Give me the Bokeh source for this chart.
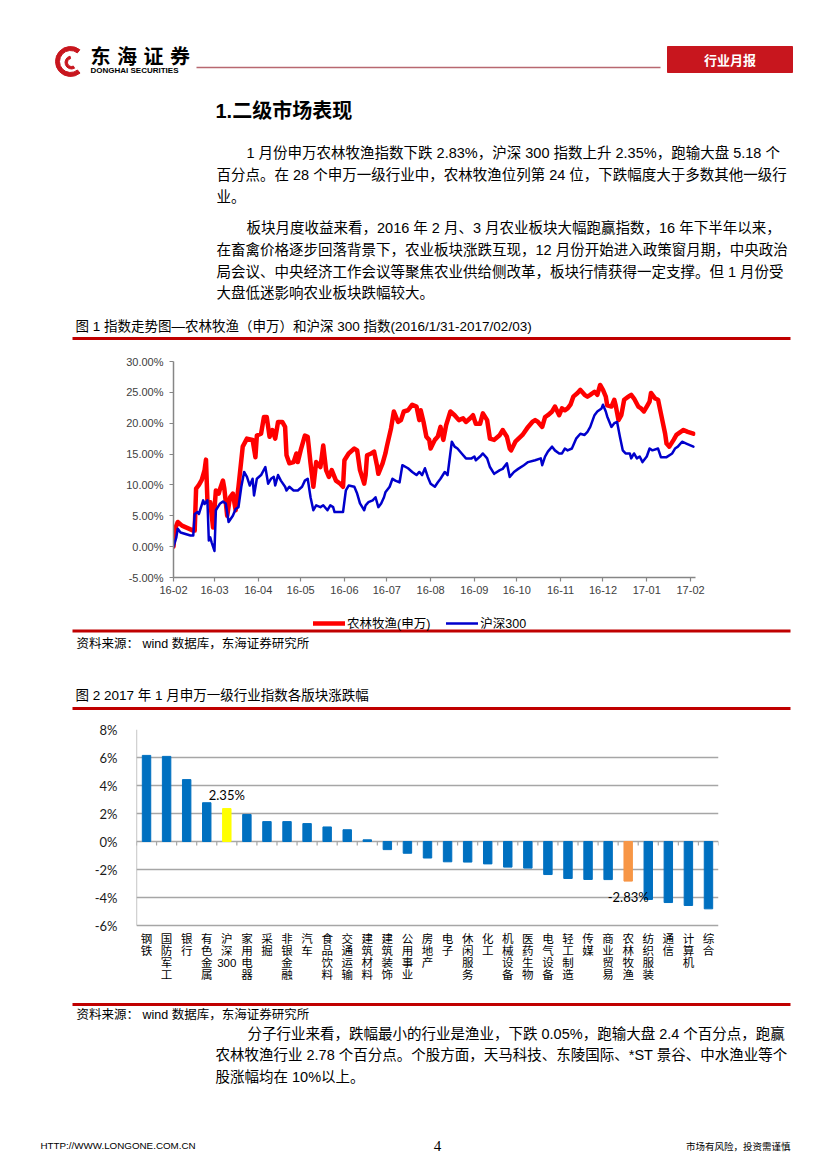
import re
from datetime import datetime, timedelta
from bokeh.plotting import figure
from bokeh.models import (Range1d, Legend, LegendItem, FixedTicker, PrintfTickFormatter,
                          DatetimeTickFormatter, MonthsTicker, ColumnDataSource)
from bokeh.core.properties import value
from bokeh.embed import file_html
from bokeh.resources import INLINE

# ---------------- data: figure 1 (cumulative return, %) ----------------
START = datetime(2016, 2, 1)
agri_day_offsets = [0, 1, 3, 6, 10, 14, 15, 16, 18, 20, 22, 23, 24, 26, 28, 30, 32, 33, 35, 36, 38, 40, 42, 44, 46,
                    49, 52, 56, 58, 59, 62, 64, 66, 68, 70, 72, 74, 77, 79, 80, 82, 85, 87, 88, 90, 93, 95, 97, 99,
                    101, 104, 106, 108, 110, 112, 115, 118, 120, 121, 124, 128, 130, 132, 135, 136, 137, 140, 142,
                    144, 145, 148, 150, 151, 154, 156, 159, 161, 163, 166, 169, 172, 174, 175, 177, 179, 181, 182,
                    185, 187, 189, 191, 193, 196, 199, 202, 205, 207, 210, 212, 214, 217, 219, 222, 224, 227, 231,
                    233, 236, 238, 239, 242, 247, 251, 254, 256, 258, 261, 263, 265, 268, 270, 273, 275, 277, 279,
                    281, 283, 286, 288, 291, 293, 295, 298, 300, 302, 304, 306, 307, 310, 312, 313, 315, 317, 319,
                    322, 324, 326, 329, 331, 333, 335, 337, 338, 341, 343, 345, 348, 349, 351, 354, 356, 359, 361,
                    364, 368]
agri_return_pct = [0.0, 2.8, 4.0, 3.4, 3.0, 2.6, 2.6, 9.4, 10.0, 10.8, 12.4, 14.1, 7.5, 7.2, 3.1, 9.1, 8.6, 9.4, 10.7,
                   9.4, 5.0, 8.0, 8.6, 5.9, 9.7, 16.2, 17.5, 17.3, 14.5, 18.0, 18.3, 21.0, 21.0, 17.8, 18.9, 17.5,
                   20.2, 20.2, 19.4, 14.8, 13.5, 13.7, 15.1, 13.7, 15.6, 18.0, 17.8, 13.5, 9.7, 13.7, 12.9, 16.4,
                   12.4, 11.3, 12.4, 10.7, 10.2, 9.7, 14.0, 15.1, 15.9, 15.6, 12.4, 10.2, 11.6, 14.8, 15.1, 15.4,
                   13.2, 11.8, 13.5, 15.1, 16.2, 19.2, 21.9, 20.2, 20.5, 21.9, 22.1, 23.0, 22.7, 20.5, 22.1, 20.2,
                   17.8, 17.3, 15.9, 17.3, 17.8, 19.4, 17.3, 19.7, 21.9, 21.3, 20.5, 20.8, 20.2, 20.8, 21.3, 19.9,
                   19.9, 21.6, 20.5, 17.5, 17.3, 18.1, 18.9, 17.8, 15.9, 15.6, 17.0, 18.1, 19.4, 20.2, 20.5, 20.2,
                   19.4, 21.0, 21.3, 21.9, 22.7, 21.3, 22.4, 22.1, 22.4, 23.0, 24.3, 24.9, 25.4, 24.6, 24.3, 24.6,
                   25.1, 24.6, 26.2, 25.4, 24.3, 22.9, 22.7, 23.8, 22.9, 20.5, 21.3, 23.8, 24.3, 24.6, 24.0, 22.7,
                   22.4, 21.9, 22.7, 23.5, 24.9, 24.0, 23.8, 21.6, 18.3, 16.7, 16.2, 17.3, 18.1, 18.6, 18.9, 18.6,
                   18.3]
hs300_day_offsets = [0, 2, 3, 5, 12, 14, 15, 17, 18, 21, 22, 24, 25, 26, 27, 29, 30, 33, 35, 37, 39, 42, 44, 46, 48,
                     50, 52, 54, 56, 57, 59, 62, 65, 67, 69, 71, 72, 74, 76, 79, 80, 82, 85, 88, 91, 93, 95, 97, 99,
                     101, 104, 106, 109, 111, 113, 114, 118, 120, 122, 124, 128, 130, 132, 135, 136, 138, 141, 143,
                     145, 147, 149, 150, 153, 155, 157, 160, 162, 166, 169, 172, 174, 176, 178, 180, 182, 185, 187,
                     189, 192, 194, 197, 199, 201, 204, 207, 211, 213, 214, 217, 219, 222, 224, 227, 231, 233, 236,
                     238, 241, 244, 248, 251, 256, 260, 261, 263, 265, 268, 270, 273, 275, 277, 279, 282, 285, 288,
                     291, 293, 295, 298, 300, 303, 304, 306, 307, 310, 312, 314, 316, 318, 320, 323, 324, 326, 328,
                     330, 332, 335, 337, 339, 343, 345, 349, 353, 355, 357, 360, 363, 368]
hs300_return_pct = [0.0, 1.5, 2.9, 2.3, 1.8, 1.8, 5.3, 5.6, 5.3, 7.5, 6.9, 7.5, 1.0, 1.5, 0.7, -0.7, 5.9, 7.0, 7.3,
                    7.0, 4.0, 5.0, 6.1, 6.4, 9.7, 12.1, 11.3, 9.9, 11.0, 8.3, 11.0, 11.6, 12.9, 10.2, 11.0, 11.3,
                    9.9, 11.6, 10.7, 9.7, 9.1, 9.7, 9.1, 9.1, 9.7, 10.7, 11.0, 8.0, 5.9, 6.7, 6.4, 6.7, 5.9, 6.7,
                    6.4, 5.6, 5.6, 5.6, 9.1, 9.9, 9.7, 8.6, 7.0, 5.9, 6.7, 7.2, 7.5, 8.0, 6.4, 7.0, 8.0, 8.8, 9.7,
                    11.0, 10.7, 10.4, 13.2, 12.7, 12.1, 11.6, 12.1, 11.6, 12.7, 11.3, 10.2, 9.7, 10.4, 11.0, 12.1,
                    11.6, 17.0, 16.2, 15.9, 15.1, 14.3, 14.3, 14.6, 14.0, 14.6, 15.1, 14.3, 12.9, 11.8, 12.4, 12.6,
                    13.5, 11.3, 12.1, 12.6, 13.2, 13.7, 14.0, 14.3, 13.2, 14.6, 15.4, 16.2, 15.6, 15.1, 15.1, 15.9,
                    15.6, 15.9, 17.5, 18.3, 18.1, 18.6, 19.4, 21.3, 21.9, 22.4, 23.0, 21.9, 21.1, 19.4, 20.0, 20.2,
                    17.8, 15.6, 15.1, 15.1, 14.3, 15.1, 14.3, 14.6, 13.7, 14.6, 15.9, 15.6, 15.9, 14.5, 14.5, 15.1,
                    15.9, 16.2, 17.0, 16.7, 16.2]
fig1_y_ticks = [-5, 0, 5, 10, 15, 20, 25, 30]
fig1_series_names = ["农林牧渔(申万)", "沪深300"]
fig1_series_colors = ["#FF0000", "#0000CC"]
fig1_series_widths = [4.5, 2.5]

# ---------------- data: figure 2 (Jan 2017 change by industry, %) ----------------
industries = ["钢铁", "国防军工", "银行", "有色金属", "沪深300", "家用电器", "采掘", "非银金融", "汽车", "食品饮料",
              "交通运输", "建筑材料", "建筑装饰", "公用事业", "房地产", "电子", "休闲服务", "化工", "机械设备",
              "医药生物", "电气设备", "轻工制造", "传媒", "商业贸易", "农林牧渔", "纺织服装", "通信", "计算机", "综合"]
industry_change_pct = [6.15, 6.08, 4.42, 2.77, 2.35, 1.93, 1.42, 1.42, 1.28, 1.04, 0.84, 0.12, -0.58, -0.84, -1.18,
                       -1.45, -1.47, -1.60, -1.83, -1.90, -2.36, -2.64, -2.71, -2.72, -2.83, -4.14, -4.36, -4.57,
                       -4.81]
fig2_y_ticks = [-6, -4, -2, 0, 2, 4, 6, 8]
highlight_colors = {"沪深300": "#FFFF00", "农林牧渔": "#F79646"}
labelled = ["沪深300", "农林牧渔"]

# ---------------- styles ----------------
W = 811
MIX = "'Liberation Sans', 'Noto Sans CJK SC'"
SANS = "Liberation Sans"
RED = "#C00000"
BAR_BLUE = "#0070C0"
GRID = "#A6A6A6"


def page(y0, y1):
    p = figure(width=W, height=y1 - y0, x_range=Range1d(0, W), y_range=Range1d(y1, y0),
               x_axis_location=None, y_axis_location=None, toolbar_location=None,
               output_backend="svg", title=None, min_border=0)
    p.grid.visible = False
    p.outline_line_color = None
    return p


def txt(p, x, y, s, size, font=MIX, color="#000000", align="left", style="normal", baseline="middle"):
    p.text(x=[x], y=[y], text=[s], text_font=value(font), text_font_size=value(f"{size}px"),
           text_color=color, text_align=align, text_baseline=baseline, text_font_style=style)


def hline(p, xa, xb, y, color=RED, width=3.0):
    p.segment(x0=[xa], y0=[y], x1=[xb], y1=[y], line_color=color, line_width=width)


# ---------------- top text block ----------------
top = page(0, 345)
top.annular_wedge(x=[70], y=[61], inner_radius=11, outer_radius=15, start_angle=0.9, end_angle=5.4,
                  color="#C8161E")
top.annular_wedge(x=[71], y=[62], inner_radius=4, outer_radius=6.5, start_angle=1.8, end_angle=5.2,
                  color="#C8161E")
for i, ch in enumerate("东海证券"):
    txt(top, 90 + i * 26.5, 55, ch, 20, font="Noto Sans CJK SC", style="bold")
txt(top, 90, 69.5, "DONGHAI SECURITIES", 8, font=SANS, style="bold")
hline(top, 196, 660, 67, color="#B86870", width=1.5)
top.quad(left=[667], right=[792], top=[46], bottom=[72], color="#C8161E")
txt(top, 729.5, 59, "行业月报", 13, font="Noto Sans CJK SC", color="#FFFFFF", align="center", style="bold")

txt(top, 215, 110, "1.二级市场表现", 20, style="bold")
BODY = 14.5
txt(top, 246, 152, "1 月份申万农林牧渔指数下跌 2.83%，沪深 300 指数上升 2.35%，跑输大盘 5.18 个", BODY)
txt(top, 216, 174, "百分点。在 28 个申万一级行业中，农林牧渔位列第 24 位，下跌幅度大于多数其他一级行", BODY)
txt(top, 216, 196, "业。", BODY)
txt(top, 246, 227, "板块月度收益来看，2016 年 2 月、3 月农业板块大幅跑赢指数，16 年下半年以来，", BODY)
txt(top, 216, 249, "在畜禽价格逐步回落背景下，农业板块涨跌互现，12 月份开始进入政策窗月期，中央政治", BODY)
txt(top, 216, 271, "局会议、中央经济工作会议等聚焦农业供给侧改革，板块行情获得一定支撑。但 1 月份受", BODY)
txt(top, 216, 292, "大盘低迷影响农业板块跌幅较大。", BODY)
txt(top, 75, 326, "图 1  指数走势图—农林牧渔（申万）和沪深 300 指数(2016/1/31-2017/02/03)", 13.5)
hline(top, 72, 790, 338)

# ---------------- figure 1 ----------------
p1 = figure(width=W, height=255, x_axis_type="datetime",
            x_range=Range1d(START, START + timedelta(days=369.5)), y_range=Range1d(-5, 30),
            toolbar_location=None, output_backend="svg", title=None,
            min_border_left=173, min_border_right=116, min_border_top=16, min_border_bottom=23)
p1.grid.visible = False
p1.outline_line_color = None
agri_dates = [START + timedelta(days=d) for d in agri_day_offsets]
hs_dates = [START + timedelta(days=d) for d in hs300_day_offsets]
series = [(agri_dates, agri_return_pct), (hs_dates, hs300_return_pct)]
for (xs, ys), col, lw in zip(series, fig1_series_colors, fig1_series_widths):
    p1.line(xs, ys, line_color=col, line_width=lw, line_join="round", line_cap="round")

p1.xaxis.ticker = MonthsTicker(months=list(range(1, 13)))
fmt = DatetimeTickFormatter(months="%y-%m", days="%y-%m", years="%y-%m")
try:
    fmt.strip_leading_zeros = False
except Exception:
    pass
p1.xaxis.formatter = fmt
p1.yaxis.ticker = FixedTicker(ticks=fig1_y_ticks)
p1.yaxis.formatter = PrintfTickFormatter(format="%.2f%%")
for ax in (p1.xaxis, p1.yaxis):
    ax.axis_line_color = "#868686"
    ax.axis_line_width = 1.5
    ax.major_tick_line_color = "#868686"
    ax.major_tick_line_width = 1.2
    ax.major_tick_in = 0
    ax.major_tick_out = 4
    ax.minor_tick_line_color = None
    ax.major_label_text_font = SANS
    ax.major_label_text_font_size = "11px"
    ax.major_label_text_color = "#404040"
p1.yaxis.major_label_standoff = 6
p1.xaxis.major_label_standoff = 4

# ---------------- middle block: legend of figure 1, source, title of figure 2 ----------------
mid = page(600, 720)
legend_items = []
for name, (xs, ys), col, lw in zip(fig1_series_names, series, fig1_series_colors, fig1_series_widths):
    # same series drawn in this (page-coordinate) panel only to feed the legend; it lies outside the view
    r = mid.line(xs, ys, line_color=col, line_width=lw, line_cap="round")
    legend_items.append(LegendItem(label=name, renderers=[r]))
legend = Legend(items=legend_items, orientation="horizontal", location=(313, 88), border_line_color=None,
                background_fill_alpha=0, padding=0, margin=0, spacing=16, glyph_width=32,
                glyph_height=16, label_standoff=2, label_text_font=MIX,
                label_text_font_size="12.5px", label_text_color="#000000")
mid.add_layout(legend)
hline(mid, 72, 790, 630.5)
txt(mid, 76, 643, "资料来源：  wind 数据库，东海证券研究所", 12.5)
txt(mid, 75, 695, "图 2  2017 年 1 月申万一级行业指数各版块涨跌幅", 13.5)
hline(mid, 72, 790, 708)

# ---------------- figure 2 ----------------
n_ind = len(industries)
bar_x = [i + 0.5 for i in range(n_ind)]
boundaries = list(range(n_ind + 1))
y_lo, y_hi = min(fig2_y_ticks), max(fig2_y_ticks)
p2 = figure(width=W, height=282, x_range=Range1d(0, n_ind), y_range=Range1d(y_hi - 272 / 14.0, y_hi),
            x_axis_location=None, toolbar_location=None, output_backend="svg", title=None,
            min_border_left=136, min_border_right=93, min_border_top=9, min_border_bottom=1)
p2.outline_line_color = None
p2.xgrid.visible = False
p2.ygrid.ticker = FixedTicker(ticks=fig2_y_ticks)
p2.ygrid.grid_line_color = GRID
p2.ygrid.grid_line_width = 1.3

src = ColumnDataSource(dict(x=bar_x, top=industry_change_pct, name=industries,
                            color=[highlight_colors.get(n, BAR_BLUE) for n in industries]))
# value axis line and category tick marks on the zero line
p2.segment(x0=[0], y0=[y_lo], x1=[0], y1=[y_hi], line_color=GRID, line_width=1.3)
p2.segment(x0=boundaries, y0=[0] * len(boundaries), x1=boundaries, y1=[-0.28] * len(boundaries),
           line_color=GRID, line_width=1.2)
p2.vbar(x="x", top="top", bottom=0, width=0.42, color="color", source=src)

for n in labelled:
    i = industries.index(n)
    v = industry_change_pct[i]
    off = 0.95 if v > 0 else -1.12
    p2.text(x=[bar_x[i]], y=[v + off], text=[f"{v:.2f}%"], text_font=value("Lato"),
            text_font_size=value("13px"), text_color="#000000", text_align="center", text_baseline="middle")

# category labels, stacked vertically (one character per line)
stacked = ["\n".join(re.findall(r"\d+|.", n)) for n in industries]
p2.text(x=bar_x, y=[y_lo] * n_ind, text=stacked, y_offset=7, text_font=value(MIX),
        text_font_size=value("11.5px"), text_line_height=1.0, text_color="#000000",
        text_align="center", text_baseline="top")

p2.yaxis.ticker = FixedTicker(ticks=fig2_y_ticks)
p2.yaxis.formatter = PrintfTickFormatter(format="%d%%")
p2.yaxis.axis_line_color = None
p2.yaxis.major_tick_line_color = None
p2.yaxis.minor_tick_line_color = None
p2.yaxis.major_label_standoff = 13
p2.yaxis.major_label_text_font = "Lato"
p2.yaxis.major_label_text_font_size = "13px"
p2.yaxis.major_label_text_color = "#1A1A1A"

# ---------------- bottom text block ----------------
bot = page(1002, 1162)
hline(bot, 72, 790, 1004)
txt(bot, 76, 1014, "资料来源：  wind 数据库，东海证券研究所", 12.5)
txt(bot, 247, 1033, "分子行业来看，跌幅最小的行业是渔业，下跌 0.05%，跑输大盘 2.4 个百分点，跑赢", BODY)
txt(bot, 215, 1054, "农林牧渔行业 2.78 个百分点。个股方面，天马科技、东陵国际、*ST 景谷、中水渔业等个", BODY)
txt(bot, 215, 1076, "股涨幅均在 10%以上。", BODY)
txt(bot, 40, 1145, "HTTP://WWW.LONGONE.COM.CN", 9.8, font=SANS)
txt(bot, 437, 1145, "4", 15, font="Liberation Serif", align="center")
txt(bot, 790, 1145, "市场有风险，投资需谨慎", 9.5, font="Noto Sans CJK SC", align="right")

open("out.html", "w").write(file_html([top, p1, mid, p2, bot], INLINE))
